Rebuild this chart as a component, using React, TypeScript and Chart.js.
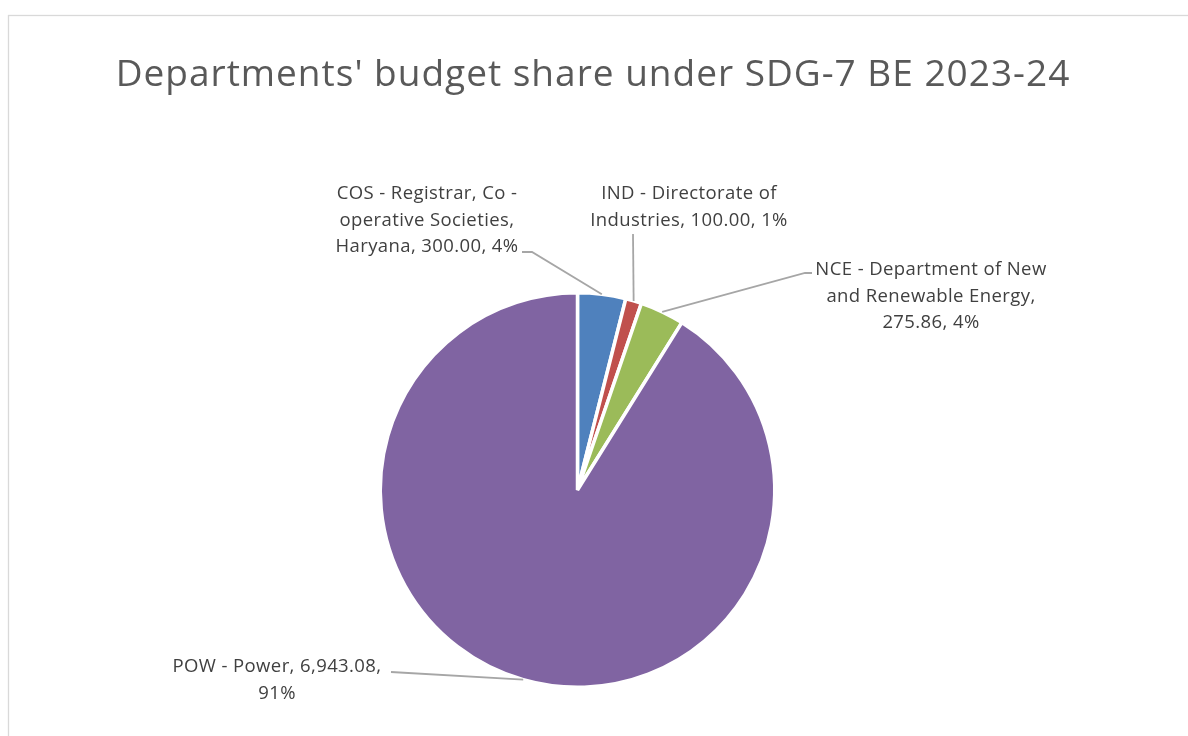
import React, { useEffect, useRef } from "react";
import { Chart, registerables } from "chart.js";

Chart.register(...registerables);

const titleText = "Departments' budget share under SDG-7 BE 2023-24";
const categories = [
  "COS - Registrar, Co - operative Societies, Haryana",
  "IND - Directorate of Industries",
  "NCE - Department of New and Renewable Energy",
  "POW - Power",
];
const values = [300.0, 100.0, 275.86, 6943.08];
const valueLabels = ["300.00", "100.00", "275.86", "6,943.08"];
const percentLabels = ["4%", "1%", "4%", "91%"];
const colors = ["#4F81BD", "#C0504D", "#9BBB59", "#8064A2"];
const labelLines = [
  ["COS - Registrar, Co -", "operative Societies,", "Haryana, 300.00, 4%"],
  ["IND - Directorate of", "Industries, 100.00, 1%"],
  ["NCE - Department of New", "and Renewable Energy,", "275.86, 4%"],
  ["POW - Power, 6,943.08,", "91%"],
];

// label placement (layout only): centre x, first baseline y, leader start, optional elbow
const labelLayout = [
  { cx: 427, y: 199, start: [522, 252], elbow: [532, 252] },
  { cx: 689, y: 199, start: [633, 234], elbow: null },
  { cx: 931, y: 275, start: [812, 273], elbow: [805, 273] },
  { cx: 277, y: 672, start: [391, 672], elbow: null },
];

const LINE_H = 26.5;

const decorPlugin = {
  id: "decor",
  beforeDraw(chart: any) {
    const ctx = chart.ctx;
    ctx.save();
    ctx.fillStyle = "#ffffff";
    ctx.fillRect(0, 0, chart.width, chart.height);
    ctx.strokeStyle = "#d9d9d9";
    ctx.lineWidth = 1.3;
    ctx.strokeRect(8.5, 15.5, 1400, 1000);
    ctx.restore();
  },
  afterDraw(chart: any) {
    const ctx = chart.ctx;
    ctx.save();
    // title
    ctx.fillStyle = "#595959";
    ctx.font = "37px 'Open Sans'";
    (ctx as any).letterSpacing = "1px";
    ctx.textAlign = "center";
    ctx.textBaseline = "alphabetic";
    ctx.fillText(titleText, 593, 86);

    const meta = chart.getDatasetMeta(0);
    meta.data.forEach((arc: any, i: number) => {
      const lay = labelLayout[i];
      const mid = (arc.startAngle + arc.endAngle) / 2;
      const px = arc.x + Math.cos(mid) * arc.outerRadius;
      const py = arc.y + Math.sin(mid) * arc.outerRadius;
      ctx.strokeStyle = "#a6a6a6";
      ctx.lineWidth = 1.8;
      ctx.beginPath();
      ctx.moveTo(lay.start[0], lay.start[1]);
      if (lay.elbow) ctx.lineTo(lay.elbow[0], lay.elbow[1]);
      ctx.lineTo(px, py);
      ctx.stroke();

      ctx.fillStyle = "#404040";
      ctx.font = "18.5px 'Open Sans'";
      (ctx as any).letterSpacing = "0.4px";
      ctx.textAlign = "center";
      labelLines[i].forEach((t, k) => {
        ctx.fillText(t, lay.cx, lay.y + k * LINE_H);
      });
    });
    ctx.restore();
  },
};

export default function App() {
  const ref = useRef<HTMLCanvasElement | null>(null);
  useEffect(() => {
    if (!ref.current) return;
    const chart = new Chart(ref.current, {
      type: "pie",
      data: {
        labels: categories.map((c, i) => `${c}, ${valueLabels[i]}, ${percentLabels[i]}`),
        datasets: [
          {
            data: values,
            backgroundColor: colors,
            borderColor: "#ffffff",
            borderWidth: 3.5,
          },
        ],
      },
      options: {
        animation: false,
        responsive: false,
        maintainAspectRatio: false,
        layout: { padding: { left: 378, right: 411, top: 291, bottom: 47 } },
        plugins: {
          legend: { display: false },
          title: { display: false },
          tooltip: { enabled: false },
        },
      },
      plugins: [decorPlugin],
    });
    return () => chart.destroy();
  }, []);
  return (
    <div style={{ position: "absolute", left: 0, top: 0, width: 1188, height: 736, overflow: "hidden", background: "#fff" }}>
      <canvas ref={ref} width={1188} height={736} style={{ display: "block" }} />
    </div>
  );
}
